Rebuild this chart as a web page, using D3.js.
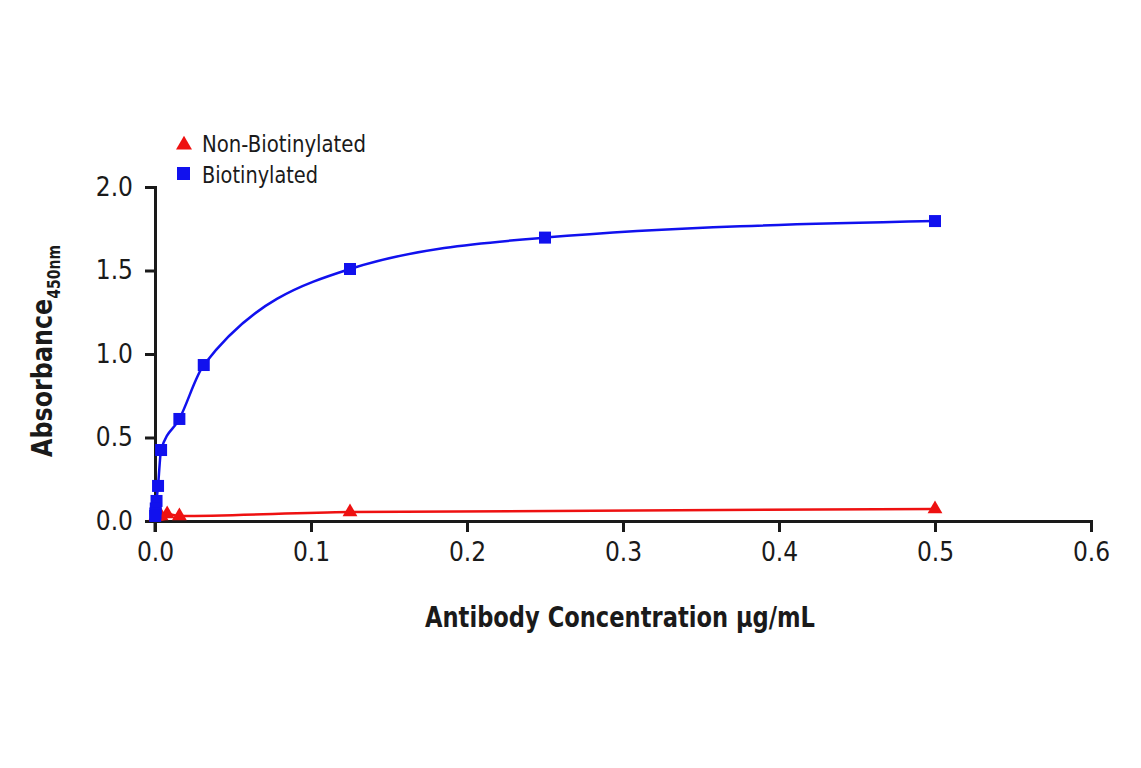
<!DOCTYPE html>
<html>
<head>
<meta charset="utf-8">
<script src="https://cdn.jsdelivr.net/npm/d3@7"></script>
<style>
  body { margin: 0; background: #fff; }
  text { font-family: "Liberation Sans Narrow", "DejaVu Sans Condensed", sans-serif; fill: #1a1a1a; }
</style>
</head>
<body>
<svg id="chart" width="1141" height="768"></svg>
<script>
// concentrations (µg/mL) and absorbance readings
let concentrations = [0.5, 0.25, 0.125, 0.03125, 0.015625, 0.0039, 0.00195, 0.00098, 0.00049, 0.00024, 0.00012];
let biotinylated = [1.796, 1.697, 1.509, 0.934, 0.611, 0.425, 0.21, 0.12, 0.075, 0.045, 0.03];
let nonConcentrations = [0.5, 0.125, 0.015625, 0.0078, 0.0039, 0.00195, 0.00098, 0.00049];
let nonBiotinylated = [0.072, 0.054, 0.03, 0.042, 0.03, 0.03, 0.028, 0.028];
let xTicks = [0, 0.1, 0.2, 0.3, 0.4, 0.5, 0.6];
let yTicks = [0, 0.5, 1.0, 1.5, 2.0];

let svg = d3.select('#chart');

let x = d3.scaleLinear().domain([0, 0.6]).range([155, 1091]);
let y = d3.scaleLinear().domain([0, 2]).range([521, 187]);

let blueData = concentrations.map((c, i) => ({ x: c, y: biotinylated[i] }));
let redData = nonConcentrations.map((c, i) => ({ x: c, y: nonBiotinylated[i] }));

// axes
let xAxis = svg.append('g')
  .attr('transform', 'translate(0,521)')
  .call(d3.axisBottom(x).tickValues(xTicks).tickFormat(d3.format('.1f')).tickSizeOuter(0).tickSize(11).tickPadding(11));
let yAxis = svg.append('g')
  .attr('transform', 'translate(155,0)')
  .call(d3.axisLeft(y).tickValues(yTicks).tickFormat(d3.format('.1f')).tickSizeOuter(0).tickSize(10).tickPadding(12));

[xAxis, yAxis].forEach(ax => {
  ax.select('.domain').attr('stroke', '#1a1a1a').attr('stroke-width', 3);
  ax.selectAll('.tick line').attr('stroke', '#1a1a1a').attr('stroke-width', 3);
  ax.selectAll('.tick text').style('font-size', '26px').attr('fill', '#1a1a1a');
});
// extend y axis line down past the x axis
svg.append('line')
  .attr('x1', 155).attr('x2', 155)
  .attr('y1', 519).attr('y2', 532)
  .attr('stroke', '#1a1a1a').attr('stroke-width', 3);

// lines
let line = d3.line()
  .x(d => x(d.x))
  .y(d => y(d.y))
  .curve(d3.curveMonotoneX);

let redSorted = redData.slice().sort((a, b) => a.x - b.x);
let blueSorted = blueData.slice().sort((a, b) => a.x - b.x);

svg.append('path')
  .attr('d', line(redSorted))
  .attr('fill', 'none')
  .attr('stroke', '#ee1111')
  .attr('stroke-width', 2.5);

svg.selectAll('.tri')
  .data(redData)
  .enter()
  .append('path')
  .attr('class', 'tri')
  .attr('transform', d => `translate(${x(d.x)},${y(d.y)})`)
  .attr('d', d3.symbol().type(d3.symbolTriangle).size(95))
  .attr('fill', '#ee1111');

svg.append('path')
  .attr('d', line(blueSorted))
  .attr('fill', 'none')
  .attr('stroke', '#1111ee')
  .attr('stroke-width', 2.5);

svg.selectAll('.sq')
  .data(blueData)
  .enter()
  .append('rect')
  .attr('class', 'sq')
  .attr('x', d => x(d.x) - 6)
  .attr('y', d => y(d.y) - 6)
  .attr('width', 12)
  .attr('height', 12)
  .attr('fill', '#1111ee');

// legend
svg.append('path')
  .attr('transform', 'translate(184,145)')
  .attr('d', d3.symbol().type(d3.symbolTriangle).size(110))
  .attr('fill', '#ee1111');
svg.append('text').attr('x', 202).attr('y', 152).style('font-size', '23px')
  .attr('textLength', 164).attr('lengthAdjust', 'spacingAndGlyphs').text('Non-Biotinylated');
svg.append('rect').attr('x', 177).attr('y', 167).attr('width', 13).attr('height', 13).attr('fill', '#1111ee');
svg.append('text').attr('x', 202).attr('y', 183).style('font-size', '23px')
  .attr('textLength', 116).attr('lengthAdjust', 'spacingAndGlyphs').text('Biotinylated');

// axis titles
svg.append('text')
  .attr('x', 425).attr('y', 627)
  .style('font-size', '29px').style('font-weight', 'bold')
  .attr('textLength', 390).attr('lengthAdjust', 'spacingAndGlyphs')
  .text('Antibody Concentration µg/mL');

let yt = svg.append('text')
  .attr('transform', 'translate(52,457) rotate(-90)')
  .attr('textLength', 212).attr('lengthAdjust', 'spacingAndGlyphs')
  .style('font-size', '29px').style('font-weight', 'bold');
yt.append('tspan').text('Absorbance');
yt.append('tspan').attr('dy', 8).style('font-size', '17px').text('450nm');
</script>
</body>
</html>
